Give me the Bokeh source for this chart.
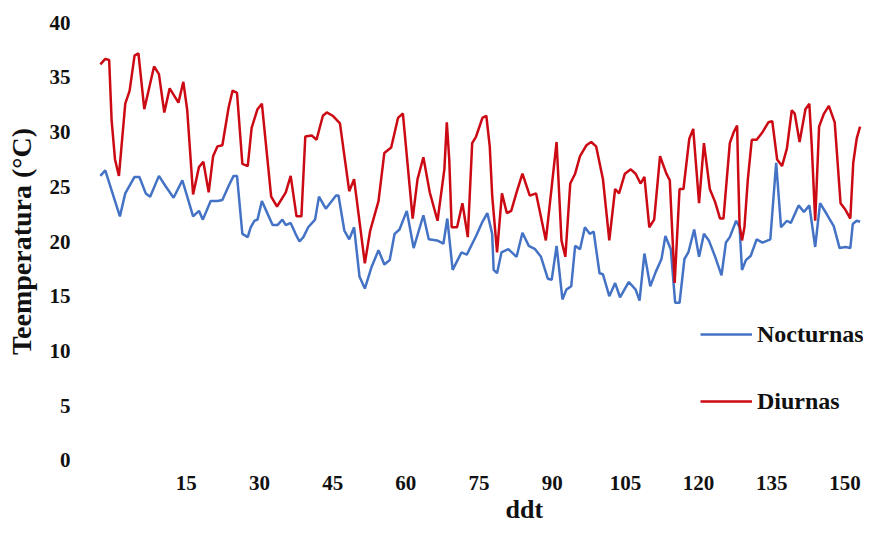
from bokeh.plotting import figure
from bokeh.models import Range1d, FixedTicker, Legend, LegendItem, Title
from bokeh.embed import file_html
from bokeh.resources import INLINE

# Diurnas (daytime) temperatures: (ddt, °C)
ddt_diurnas = [-2.6, -1.6, -0.8, -0.3, 0.4, 1.2, 2.5, 3.4, 4.4, 5.2, 6.4, 8.4, 9.4, 10.5, 11.6,
               13.4, 14.4, 15.2, 16.4, 17.6, 18.5, 19.6, 20.5, 21.4, 22.4, 23.7, 24.5, 25.4,
               26.5, 27.6, 28.4, 29.6, 30.5, 32.4, 33.6, 35.4, 36.4, 37.6, 38.6, 39.4, 40.7,
               41.7, 43.0, 43.8, 45.0, 46.5, 48.4, 49.4, 51.6, 52.7, 54.4, 55.6, 57.0, 58.4,
               59.4, 61.4, 62.4, 63.6, 64.9, 66.5, 67.9, 68.4, 68.9, 69.4, 70.5, 71.6, 72.7,
               73.6, 74.4, 75.7, 76.5, 77.2, 77.7, 78.7, 79.7, 80.7, 81.6, 82.7, 83.9, 85.4,
               86.7, 88.7, 89.7, 90.9, 91.9, 92.7, 93.7, 94.7, 95.7, 97.0, 98.0, 99.0, 100.4,
               101.7, 102.9, 103.7, 104.9, 106.1, 107.1, 108.1, 108.9, 109.9, 110.9, 112.1,
               113.4, 114.1, 115.1, 116.1, 116.9, 118.1, 118.9, 120.1, 121.1, 122.3, 123.4,
               124.4, 125.1, 126.4, 127.2, 127.9, 128.1, 128.4, 128.9, 129.4, 130.1, 130.9,
               131.9, 133.1, 134.3, 135.1, 136.1, 137.1, 138.1, 139.1, 139.7, 140.7, 141.9,
               142.7, 143.2, 143.9, 144.7, 145.7, 146.7, 147.9, 149.1, 150.1, 151.1, 151.7,
               152.4, 153.1]
temp_diurnas = [36.2, 36.7, 36.6, 31.1, 27.5, 26.0, 32.6, 33.8, 37.0, 37.2, 32.1, 36.0, 35.3,
                31.8, 34.0, 32.7, 34.6, 32.0, 24.3, 26.8, 27.3, 24.5, 27.8, 28.7, 28.8, 32.3,
                33.8, 33.6, 27.1, 26.9, 30.4, 32.1, 32.6, 24.1, 23.2, 24.5, 26.0, 22.3, 22.3,
                29.6, 29.7, 29.3, 31.5, 31.8, 31.5, 30.8, 24.6, 25.7, 18.0, 21.0, 23.7, 28.1,
                28.6, 31.3, 31.7, 22.1, 25.7, 27.7, 24.5, 21.9, 26.6, 30.9, 27.5, 21.3, 21.3,
                23.5, 20.4, 29.0, 29.6, 31.3, 31.5, 28.7, 24.2, 19.0, 24.4, 22.6, 22.8, 24.5,
                26.2, 24.2, 24.4, 20.1, 24.2, 29.1, 20.1, 18.6, 25.3, 26.2, 27.8, 28.8, 29.1,
                28.7, 25.7, 20.1, 24.8, 24.4, 26.2, 26.6, 26.2, 25.3, 25.9, 21.3, 22.0, 27.8,
                26.2, 25.6, 16.2, 24.8, 24.8, 29.4, 30.3, 23.5, 29.0, 24.8, 23.6, 22.1, 22.1,
                29.0, 30.0, 30.6, 26.6, 21.5, 20.1, 21.3, 25.7, 29.3, 29.3, 30.0, 30.9, 31.0,
                27.5, 26.9, 28.5, 32.0, 31.7, 29.1, 32.1, 32.6, 28.7, 21.9, 30.5, 31.7, 32.4,
                30.9, 23.5, 22.9, 22.1, 27.2, 29.4, 30.5]

# Nocturnas (night-time) temperatures: (ddt, °C)
ddt_nocturnas = [-2.6, -1.6, 1.4, 2.5, 4.4, 5.4, 6.7, 7.6, 9.4, 10.7, 12.4, 14.2, 15.4, 16.4,
                 17.6, 18.4, 20.0, 21.4, 22.4, 23.7, 24.7, 25.4, 26.5, 27.6, 28.2, 29.0, 29.6,
                 30.5, 31.4, 32.7, 33.7, 34.7, 35.4, 36.4, 37.4, 38.2, 39.0, 40.0, 41.4, 42.2,
                 43.6, 45.7, 46.2, 47.4, 48.4, 49.4, 50.5, 51.6, 53.0, 54.4, 55.6, 56.7, 57.7,
                 58.7, 60.2, 61.6, 63.6, 64.7, 66.4, 67.7, 68.5, 69.6, 71.4, 72.5, 74.4, 75.7,
                 76.7, 77.7, 78.0, 78.7, 79.6, 81.0, 82.7, 83.9, 85.2, 86.5, 87.7, 89.1, 89.9,
                 90.9, 92.1, 92.9, 93.9, 94.7, 95.7, 96.7, 97.7, 98.5, 99.7, 100.4, 101.7,
                 102.9, 103.9, 105.7, 107.1, 107.9, 108.9, 110.1, 111.2, 112.4, 113.2, 114.3,
                 115.2, 116.1, 117.1, 117.9, 119.1, 120.1, 121.1, 122.1, 123.4, 124.7, 125.6,
                 126.4, 127.7, 128.4, 128.9, 129.7, 130.7, 131.9, 133.1, 134.7, 135.9, 136.9,
                 138.1, 138.9, 140.5, 141.6, 142.7, 143.9, 144.9, 146.4, 147.7, 148.9, 150.1,
                 151.1, 151.6, 152.4, 153.1]
temp_nocturnas = [26.0, 26.5, 22.3, 24.4, 25.9, 25.9, 24.4, 24.1, 26.0, 25.1, 24.0, 25.6, 23.8,
                  22.3, 22.8, 22.0, 23.7, 23.7, 23.8, 25.1, 26.0, 26.0, 20.7, 20.4, 21.3, 21.9,
                  22.0, 23.7, 22.8, 21.5, 21.5, 22.0, 21.5, 21.7, 20.7, 20.0, 20.4, 21.3, 22.0,
                  24.1, 23.0, 24.2, 24.2, 21.0, 20.2, 21.3, 16.8, 15.7, 17.7, 19.2, 17.9, 18.3,
                  20.7, 21.1, 22.8, 19.4, 22.4, 20.2, 20.1, 19.8, 22.1, 17.4, 19.0, 18.8, 20.5,
                  21.8, 22.6, 20.7, 17.4, 17.1, 19.0, 19.3, 18.6, 20.8, 19.6, 19.3, 18.6, 16.6,
                  16.5, 19.6, 14.7, 15.6, 15.9, 19.6, 19.3, 21.3, 20.7, 20.9, 17.1, 17.0, 15.0,
                  16.2, 14.9, 16.3, 15.6, 14.6, 18.9, 15.9, 17.2, 18.4, 20.5, 19.3, 14.4, 14.4,
                  18.4, 19.0, 21.1, 18.6, 20.7, 20.1, 18.6, 16.9, 19.9, 20.4, 21.9, 21.3, 17.4,
                  18.3, 18.7, 20.2, 19.9, 20.2, 27.2, 21.3, 21.9, 21.7, 23.3, 22.7, 23.3, 19.5,
                  23.5, 22.4, 21.4, 19.4, 19.5, 19.4, 21.6, 21.9, 21.8]

x_ticks = [15, 30, 45, 60, 75, 90, 105, 120, 135, 150]
y_ticks = [0, 5, 10, 15, 20, 25, 30, 35, 40]

FONT = "Liberation Serif"
BLUE = "#4472C4"
RED = "#CC0A14"

p = figure(width=863, height=523, output_backend="svg", toolbar_location=None,
           x_range=Range1d(-3.6, 153.8), y_range=Range1d(-0.3, 40.3),
           min_border_left=95, min_border_right=0, min_border_top=19, min_border_bottom=0)
p.outline_line_color = None
p.grid.visible = False
p.background_fill_color = "white"

for ax in (p.xaxis[0], p.yaxis[0]):
    ax.axis_line_color = None
    ax.major_tick_line_color = None
    ax.minor_tick_line_color = None
    ax.major_label_text_font = FONT
    ax.major_label_text_font_style = "bold"
    ax.major_label_text_font_size = "21px"
    ax.major_label_text_color = "#111111"

p.xaxis.ticker = FixedTicker(ticks=x_ticks)
p.yaxis.ticker = FixedTicker(ticks=y_ticks)
p.xaxis.major_label_standoff = 6
p.yaxis.major_label_standoff = 19

p.yaxis.axis_label = "Teemperatura (°C)"
p.yaxis.axis_label_text_font = FONT
p.yaxis.axis_label_text_font_style = "bold"
p.yaxis.axis_label_text_font_size = "28px"
p.yaxis.axis_label_text_color = "#111111"
p.yaxis.axis_label_standoff = 10

xt = Title(text="ddt", align="left", offset=410, standoff=0,
           text_font=FONT, text_font_style="bold", text_font_size="26px",
           text_color="#111111")
p.add_layout(xt, "below")

r_noc = p.line(ddt_nocturnas, temp_nocturnas, line_color=BLUE, line_width=2.5)
r_diu = p.line(ddt_diurnas, temp_diurnas, line_color=RED, line_width=2.5)

legend = Legend(items=[LegendItem(label="Nocturnas", renderers=[r_noc]),
                       LegendItem(label="Diurnas", renderers=[r_diu])],
                location=(605, 47), orientation="vertical",
                glyph_width=52, glyph_height=30, label_height=30, spacing=37,
                label_standoff=5, padding=0, margin=0,
                label_text_font=FONT, label_text_font_style="bold",
                label_text_font_size="24px", label_text_color="#111111",
                background_fill_alpha=0, border_line_alpha=0)
p.add_layout(legend, "center")

open("out.html", "w").write(file_html(p, INLINE))
